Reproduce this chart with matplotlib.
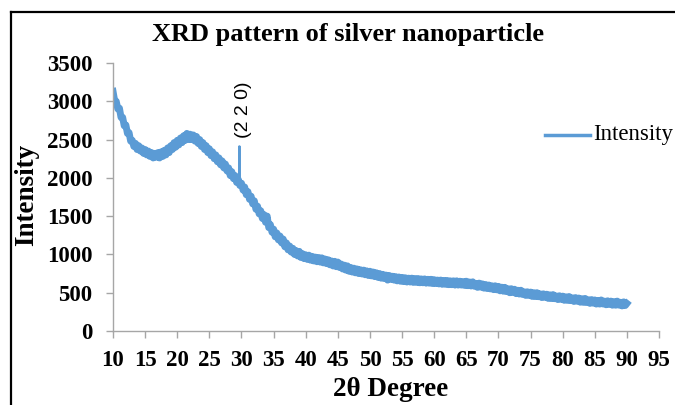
import numpy as np
import matplotlib.pyplot as plt
from matplotlib.lines import Line2D

# scan values, 0.25 degree step from 10 to 90
scan_start = 10.0
scan_step = 0.25
intensity = [
    3130, 3010, 3000, 2900, 2910, 2790, 2790, 2680, 2690, 2580,
    2590, 2480, 2490, 2410, 2450, 2370, 2420, 2350, 2390, 2320,
    2370, 2300, 2350, 2280, 2330, 2260, 2320, 2270, 2330, 2260,
    2340, 2280, 2360, 2300, 2390, 2330, 2420, 2370, 2460, 2400,
    2490, 2430, 2520, 2460, 2550, 2490, 2580, 2500, 2570, 2500,
    2560, 2480, 2540, 2450, 2500, 2410, 2460, 2370, 2420, 2330,
    2380, 2290, 2340, 2250, 2300, 2210, 2260, 2170, 2220, 2130,
    2180, 2090, 2130, 2030, 2080, 1990, 2030, 1940, 1980, 1900,
    1930, 1840, 1880, 1780, 1820, 1720, 1760, 1660, 1700, 1590,
    1630, 1530, 1570, 1470, 1520, 1420, 1500, 1350, 1390, 1290,
    1330, 1230, 1280, 1190, 1240, 1150, 1200, 1100, 1150, 1060,
    1110, 1030, 1080, 1000, 1050, 980, 1040, 960, 1010, 945,
    995, 935, 990, 925, 975, 915, 965, 905, 960, 900,
    955, 890, 940, 880, 930, 865, 915, 850, 910, 840,
    900, 830, 875, 810, 860, 795, 850, 780, 830, 770,
    820, 760, 810, 750, 800, 745, 795, 735, 785, 725,
    780, 720, 770, 710, 760, 700, 750, 690, 740, 685,
    730, 665, 725, 675, 715, 665, 710, 655, 705, 650,
    700, 645, 695, 640, 690, 640, 690, 635, 685, 635,
    685, 630, 680, 630, 680, 625, 675, 625, 675, 620,
    670, 620, 665, 615, 665, 610, 660, 610, 660, 605,
    655, 605, 655, 600, 655, 600, 650, 600, 645, 595,
    650, 592, 640, 588, 642, 585, 622, 570, 625, 573,
    615, 560, 607, 555, 600, 550, 590, 540, 590, 538,
    583, 525, 572, 520, 570, 515, 552, 500, 552, 503,
    545, 488, 532, 483, 532, 478, 512, 465, 512, 465,
    508, 452, 500, 450, 500, 448, 485, 437, 485, 440,
    480, 426, 472, 424, 475, 422, 458, 411, 460, 414,
    455, 401, 446, 400, 450, 397, 433, 386, 436, 389,
    430, 376, 421, 374, 425, 372, 408, 361, 410, 364,
    405, 352, 398, 352, 405, 353, 390, 343, 394, 348,
    390, 337, 383, 337, 390, 338, 375, 328, 380, 333,
    360,
]
# the (2 2 0) reflection
peak_theta = [29.64, 29.68, 29.72]
peak_int = [1960, 2410, 1930]

x_ticks = list(range(10, 100, 5))
y_ticks = list(range(0, 4000, 500))

theta = scan_start + scan_step * np.arange(len(intensity))

serif = ["Liberation Serif", "DejaVu Serif"]
blue = "#5B9BD5"
grey = "#A6A6A6"

fig = plt.figure(figsize=(6.75, 4.05), dpi=100)
ax = fig.add_axes([113/675, 1-331/405, (659-113)/675, (331-63)/405])

ax.plot(theta, intensity, color=blue, lw=5.0, solid_joinstyle="round")
# the sharp reflection is a thin spike on top of the band
ax.plot(peak_theta, peak_int, color=blue, lw=1.8, solid_joinstyle="round")

ax.set_xlim(10, 95)
ax.set_ylim(0, 3500)
ax.set_xticks(x_ticks)
ax.set_yticks(y_ticks)
for s in ["top", "right"]:
    ax.spines[s].set_visible(False)
for s in ["left", "bottom"]:
    ax.spines[s].set_color(grey)
    ax.spines[s].set_linewidth(1.0)
ax.tick_params(direction="out", length=5, color=grey, width=1.0)
ax.tick_params(axis="y", pad=10)
ax.tick_params(axis="x", pad=9)
for lab in ax.get_xticklabels() + ax.get_yticklabels():
    lab.set_fontfamily(serif)
    lab.set_fontweight("bold")
    lab.set_fontsize(16.5)

fig.text(391/675, 1-390/405, "2θ Degree", ha="center", va="center",
         fontfamily=serif, fontweight="bold", fontsize=19.5)
fig.text(27/675, 1-195/405, "Intensity", rotation=90, ha="center", va="center",
         fontfamily=serif, fontweight="bold", fontsize=19.5)
fig.text(348/675, 1-35/405, "XRD pattern of silver nanoparticle", ha="center", va="center",
         fontfamily=serif, fontweight="bold", fontsize=19)

fig.text(244/675, 1-110/405, "(2 2 0)", rotation=90, ha="center", va="center",
         fontfamily=["Liberation Sans", "DejaVu Sans"], fontsize=14)

# legend drawn at right of plot area
fig.add_artist(Line2D([545/675, 590/675], [1-135/405, 1-135/405], color=blue, lw=2.5))
fig.text(593/675, 1-135/405, "Intensity", ha="left", va="center",
         fontfamily=serif, fontsize=16.5)

# outer frame (only left and top edges visible)
fig.add_artist(Line2D([11/675, 11/675], [0, 1-12/405], color="black", lw=1.6))
fig.add_artist(Line2D([11/675, 1], [1-12/405, 1-12/405], color="black", lw=1.6))

fig.savefig("out.png", dpi=100)
